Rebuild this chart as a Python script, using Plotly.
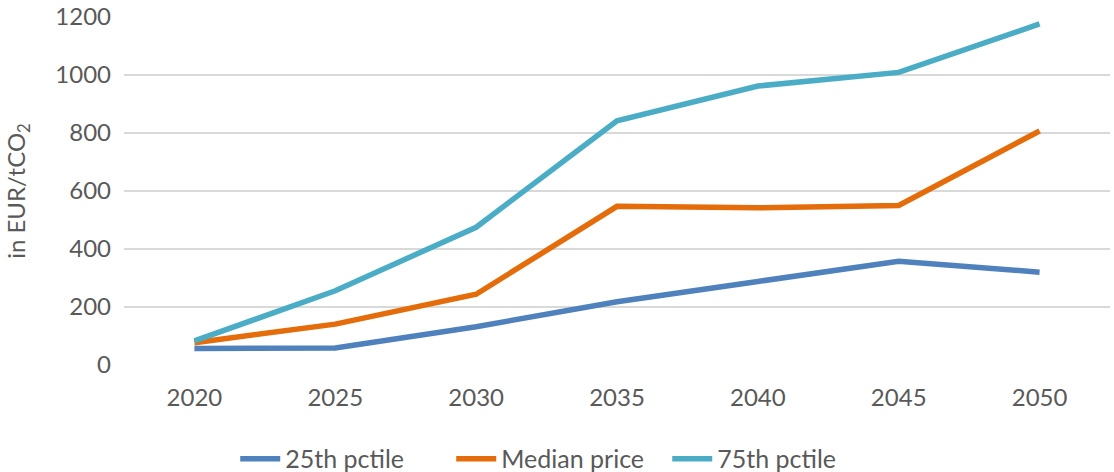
import plotly.graph_objects as go

years = ["2020", "2025", "2030", "2035", "2040", "2045", "2050"]
p25 = [57, 59, 132, 218, 288, 358, 320]
median = [77, 141, 244, 547, 542, 550, 807]
p75 = [83, 256, 475, 842, 962, 1009, 1176]
y_ticks = [0, 200, 400, 600, 800, 1000, 1200]

series = [
    ("25th pctile", p25, "#4F81BD"),
    ("Median price", median, "#E46C0A"),
    ("75th pctile", p75, "#4BACC6"),
]

fig = go.Figure()
for name, vals, col in series:
    fig.add_trace(go.Scatter(
        x=years, y=vals, name=name, mode="lines",
        line=dict(color=col, width=5.5),
    ))

font_family = "Lato, 'Open Sans', sans-serif"
fig.update_layout(
    width=1114, height=472,
    margin=dict(l=124, r=4, t=17, b=107, autoexpand=False),
    paper_bgcolor="white", plot_bgcolor="white",
    font=dict(family=font_family, color="#595959", size=23),
    xaxis=dict(
        type="category", range=[-0.5, 6.5],
        showgrid=False, showline=False, zeroline=False,
        ticks="", tickfont=dict(size=24, color="#595959"),
        ticklabelstandoff=16,
    ),
    yaxis=dict(
        range=[0, 1200], tickvals=y_ticks,
        showgrid=True, gridcolor="#D9D9D9", gridwidth=1.5,
        zeroline=False, showline=False, ticks="",
        tickfont=dict(size=24, color="#595959"),
        ticklabelstandoff=12,
        title=dict(text="in EUR/tCO<sub>2</sub>", font=dict(size=24, color="#595959"), standoff=22),
    ),
    legend=dict(
        orientation="h", xref="container", xanchor="center", x=0.502,
        yanchor="middle", y=-0.27,
        font=dict(size=25, color="#595959"),
        itemwidth=40, tracegroupgap=0,
        entrywidth=161, entrywidthmode="pixels",
    ),
    showlegend=True,
)

fig.write_html(
    "out.html",
    config={"displayModeBar": False},
    post_script="document.body.style.margin='0';document.body.style.overflow='hidden';",
)
